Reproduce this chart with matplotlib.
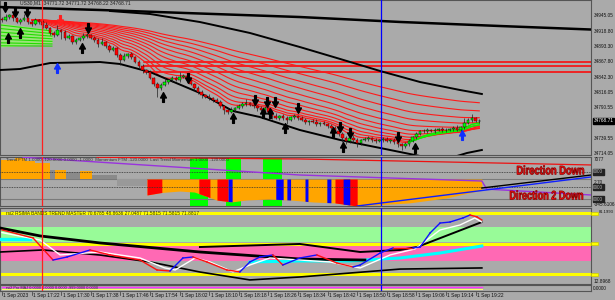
import numpy as np
import matplotlib
matplotlib.use("Agg")
import matplotlib.pyplot as plt
from matplotlib.path import Path
from matplotlib.patches import PathPatch
from matplotlib.textpath import TextPath
from matplotlib.font_manager import FontProperties
from matplotlib.transforms import Affine2D, IdentityTransform

# ---- data (US30 M1, 1 Sep 2023) ----
closes = [34938.3, 34943.3, 34946.7, 34941.7, 34934.9, 34938.3, 34941.7, 34934.9, 34931.6, 34938.3,
          34934.9, 34929.9, 34924.9, 34916.5, 34913.1, 34921.5, 34918.1, 34908.1, 34911.4, 34901.3,
          34904.7, 34908.1, 34911.4, 34913.1, 34908.1, 34904.7, 34898.0, 34901.3, 34894.6, 34887.9,
          34891.3, 34879.5, 34871.1, 34877.8, 34881.2, 34876.1, 34867.7, 34861.0, 34854.3, 34850.9,
          34840.9, 34830.8, 34824.1, 34829.1, 34834.1, 34837.5, 34840.9, 34837.5, 34842.5, 34844.2,
          34837.5, 34830.8, 34824.1, 34817.3, 34812.3, 34808.9, 34807.3, 34803.9, 34800.5, 34793.8,
          34787.1, 34783.7, 34787.1, 34790.5, 34793.8, 34797.2, 34798.9, 34795.5, 34793.8, 34790.5,
          34787.1, 34790.5, 34783.7, 34777.0, 34773.7, 34777.0, 34773.7, 34770.3, 34775.3, 34777.0,
          34773.7, 34770.3, 34766.9, 34768.7, 34766.9, 34763.6, 34765.3, 34763.6, 34760.2, 34756.9,
          34751.8, 34746.8, 34740.1, 34735.0, 34740.1, 34736.7, 34731.7, 34736.7, 34738.4, 34740.1,
          34736.7, 34735.0, 34736.7, 34738.4, 34735.0, 34736.7, 34733.3, 34730.0, 34726.6, 34730.0,
          34735.0, 34741.7, 34746.8, 34751.8, 34751.8, 34753.5, 34751.8, 34753.5, 34755.2, 34753.5,
          34753.5, 34755.2, 34756.9, 34753.5, 34758.5, 34765.3, 34770.3, 34773.7, 34768.7, 34768.71]
first_open = 34940.0
up_wick = [3, 5, 2, 4, 2, 3, 6, 2, 3, 4, 2, 3, 5, 2, 3, 8, 2, 3, 4, 2, 3, 2, 5, 3, 2, 4, 3, 6, 2, 3,
           4, 2, 3, 5, 2, 3, 2, 4, 3, 2, 3, 2, 4, 3, 6, 2, 3, 4, 8, 3, 2, 3, 2, 4, 3, 2, 5, 2, 3, 4,
           2, 3, 5, 2, 4, 3, 6, 2, 3, 2, 4, 3, 2, 3, 5, 2, 3, 4, 2, 3, 2, 4, 3, 2, 3, 5, 2, 3, 2, 4,
           3, 2, 4, 3, 2, 5, 3, 2, 3, 4, 2, 3, 2, 4, 3, 2, 3, 5, 2, 3, 4, 2, 3, 2, 3, 4, 2, 3, 2, 3,
           4, 2, 3, 5, 2, 8, 3, 6, 2, 3]
dn_wick = [4, 2, 3, 5, 2, 3, 2, 4, 3, 2, 3, 5, 2, 3, 4, 2, 12, 3, 2, 4, 3, 2, 3, 4, 2, 3, 5, 2, 3, 4,
           2, 3, 8, 2, 3, 4, 2, 3, 5, 3, 2, 4, 15, 3, 2, 3, 4, 2, 3, 2, 3, 2, 4, 3, 5, 2, 3, 4, 2, 3,
           6, 4, 2, 3, 2, 4, 3, 2, 3, 5, 2, 4, 3, 5, 2, 3, 4, 6, 2, 3, 4, 2, 3, 5, 2, 3, 4, 2, 3, 6,
           4, 3, 6, 5, 3, 4, 6, 3, 2, 3, 4, 3, 2, 3, 2, 4, 3, 5, 6, 3, 4, 2, 3, 2, 4, 3, 2, 3, 2, 3,
           4, 2, 3, 2, 3, 4, 2, 3, 2, 3]

time_labels = ["1 Sep 2023", "1 Sep 17:22", "1 Sep 17:30", "1 Sep 17:38", "1 Sep 17:46", "1 Sep 17:54",
               "1 Sep 18:02", "1 Sep 18:10", "1 Sep 18:18", "1 Sep 18:26", "1 Sep 18:34", "1 Sep 18:42",
               "1 Sep 18:50", "1 Sep 18:58", "1 Sep 19:06", "1 Sep 19:14", "1 Sep 19:22"]
time_label_idx = [0, 8, 16, 24, 32, 40, 48, 56, 64, 72, 80, 88, 96, 104, 112, 120, 128]

price_ticks = [34945.05, 34918.80, 34893.30, 34867.80, 34842.30, 34816.05, 34790.55, 34739.55, 34714.05]
last_price = 34768.71

ema_periods = [8, 12, 17, 23, 30, 38, 48, 60, 75, 95, 120]
hlines = [34867.5, 34861.0, 34851.0]

# channel-like black lines (bar index, price)
top_line = [(-0.5, 34960.1), (26.5, 34955.1), (53.5, 34949.2), (80.5, 34943.3), (107.6, 34935.0),
            (134.6, 34928.2), (159.2, 34922.3)]
mid_line = [(29.2, 34953.4), (40, 34948.4), (53.5, 34934.9), (67, 34916.5), (80.5, 34892.9),
            (91.4, 34872.8), (102.2, 34852.6), (113, 34834.1), (123.8, 34820.7), (129.7, 34814.0)]
low_line = [(-0.5, 34854.3), (4.9, 34856.0), (13, 34866.0), (26.5, 34867.7), (31.9, 34864.4),
            (40, 34850.9), (53.5, 34815.7), (62.4, 34785.4), (69.7, 34775.3), (80.5, 34753.5),
            (91.4, 34736.7), (102.2, 34723.3), (107.6, 34716.5), (116, 34706.0), (122, 34708.0),
            (125.7, 34714.9), (129.7, 34719.9)]
green_band = [(-0.5, 34933, 34893), (13.5, 34922, 34899)]
green_band_lines = [34930, 34924, 34918, 34912, 34906, 34900, 34895]

arrows_down_black = [(0.8, 34960.1), (3.5, 34951.7), (6.8, 34951.7), (23.2, 34924.9), (50.3, 34840.9),
                     (68.4, 34803.9), (71.6, 34800.5), (73.8, 34800.5), (80, 34790.5), (91.4, 34758.5),
                     (94.1, 34748.5), (107, 34741.7)]
arrows_up_black = [(1.6, 34908.1), (4.9, 34916.5), (21.6, 34891.3), (43.5, 34808.9), (62.4, 34773.7),
                   (70.5, 34782.1), (72.4, 34782.1), (76.5, 34756.9), (89.5, 34750.1), (92.2, 34724.9),
                   (111.6, 34723.3)]
arrows_down_red = [(15.7, 34938.3)]
arrows_up_blue = [(14.9, 34857.7), (124.3, 34745.1)]

red_vline = 10.7
blue_vline = 102.4

# trend/momentum sub window
green_blocks = [(50.8, 55.7), (60.5, 64.6), (70.5, 75.7)]
orange_top_blocks = [(-0.5, 3.5, 25), (3.5, 6.2, 42), (6.2, 8.9, 17), (8.9, 13.0, 1),
                     (14.3, 17.3, -56), (21.1, 24.3, -64)]
gray_top_blocks = [(13.0, 14.3, -56), (17.3, 21.1, -72), (24.3, 31.0, -100)]
gray_low_block = (31.0, 39.2, -190)
hist_edge = [(39.2, -260), (43, -240), (48, -228), (52, -236), (55, -268), (58, -301), (62, -317),
             (66, -301), (72, -293), (78, -301), (84, -317), (90, -325), (96, -350), (110, -325),
             (120, -285), (129.7, -220)]
red_blocks = [(39.2, 43.2), (53.2, 56.2), (58.1, 61.1), (90, 96)]
blue_blocks = [(61.1, 62.2), (74, 76), (77, 78), (81.9, 82.7), (87.8, 88.9), (92.2, 94)]
ind_red_line = [(25.7, 48), (80.5, 34), (159.2, -15)]
ind_purple_line = [(5.7, 48), (80.5, -97), (129.7, -146), (131, -212), (159.2, -260)]
ind_blue_line = [(96, -350), (159.2, -113)]
ind_black_line = [(129.7, -203), (159.2, -97)]

# rsi window
rsi_fast = [(0, 63.6), (8.4, 55.7), (13.8, 34.0), (17.6, 37.0), (23.8, 43.9), (29.2, 39.0), (37.3, 34.0),
            (41.9, 24.2), (45.4, 23.2), (48.9, 36.0), (51.6, 37.0), (55.4, 32.1), (60.8, 24.2),
            (64.3, 22.3), (67.0, 32.1), (69.7, 37.0), (73.2, 39.0), (75.9, 29.1), (80.5, 36.0),
            (85.1, 39.0), (90.5, 31.1), (94.9, 27.2), (96.8, 29.1), (102.2, 40.9), (105.7, 45.9),
            (111.1, 45.9), (113.0, 46.8), (115.7, 60.6), (118.4, 70.4), (121.1, 71.4), (124.6, 75.4),
            (126.5, 78.3), (128.4, 76.4), (129.7, 73.4)]
rsi_white = [(0, 61.0), (10.3, 53.7), (15.7, 39.0), (26.5, 41.9), (37.3, 36.0), (44, 26.2), (46.8, 24.2),
             (52.2, 36.0), (56.2, 32.1), (62.4, 22.3), (67, 29.1), (72.4, 36.0), (80.5, 34.0),
             (88.6, 32.1), (96.8, 26.2), (104.9, 39.0), (111.6, 44.9), (118.4, 63.6), (123.8, 68.5),
             (127.8, 75.4), (129.7, 71.4)]
rsi_slow_a = [(-0.5, 65.5), (10.3, 57.7), (26.5, 50.8), (53.5, 41.9), (80.5, 35.0), (98.1, 34.0)]
rsi_slow_b = [(53.5, 46.8), (80.5, 49.8), (96.8, 41.9), (107.6, 43.9), (112.2, 46.8), (129.7, 71.4)]
rsi_slow_c = [(-0.5, 41.9), (11.1, 43.9), (26.5, 38.9), (40, 32.1), (53.5, 22.2), (67, 14.4),
              (80.5, 17.3), (107.6, 25.1), (129.7, 26.2)]
rsi_cyan_left = [(-0.5, 54.6), (7.6, 54.6)]
rsi_cyan = [(67, 32.1), (80.5, 33.1), (94.1, 33.1), (107.6, 36.0), (118.4, 40.9), (129.7, 47.8)]
rsi_levels = [80, 50, 20]
rsi_green_zone = (52.1, 66.8)
rsi_pink_zone = (33.3, 48.3)

# ---- drawing ----
BG = "#aaaaaa"
W, H = 615, 300
fig = plt.figure(figsize=(6.15, 3.0), dpi=100, facecolor=BG)
LAB = "Liberation Sans"


def rect(x0, y0, x1, y1):
    return [x0 / W, 1 - y1 / H, (x1 - x0) / W, (y1 - y0) / H]


ax = fig.add_axes(rect(0, 0, 591, 155))
ax2 = fig.add_axes(rect(0, 157, 591, 206))
ax3 = fig.add_axes(rect(0, 208, 591, 284))
ax4 = fig.add_axes(rect(0, 285, 591, 291))
XL = (-0.54, 159.2)
for a in (ax, ax2, ax3, ax4):
    a.set_facecolor(BG)
    a.set_xlim(*XL)
    a.set_xticks([])
    a.set_yticks([])
    for s in a.spines.values():
        s.set_color("#555555")
        s.set_linewidth(0.8)
    a.axvline(red_vline, color="#ff2020", lw=0.9, zorder=6)
    a.axvline(blue_vline, color="#0000ff", lw=0.9, zorder=6)


def xy(pts):
    return [p[0] for p in pts], [p[1] for p in pts]


def right_label(a, val, text, color="#111111", x=1.004, size=3.4, **kw):
    a.text(x, val, text, transform=a.get_yaxis_transform(), fontsize=size, color=color,
           va="center", clip_on=False, family=LAB, **kw)


# main price window
ax.set_ylim(34711.5, 34971.9)
idx = np.arange(len(closes))
c = np.array(closes)
o = np.array([first_open] + closes[:-1])
hi = np.maximum(o, c) + np.array(up_wick)
lo = np.minimum(o, c) - np.array(dn_wick)

gx = [g[0] for g in green_band]
ax.fill_between(gx, [g[2] for g in green_band], [g[1] for g in green_band], color="#9be37a", lw=0, zorder=1)
for p in green_band_lines:
    ax.plot([gx[0], gx[1]], [p, p - (34933 - 34922) * (p - 34893) / 40], color="#22dd00", lw=0.8, zorder=1.5)

for p in hlines:
    ax.plot([38.5, XL[1]], [p, p], color="#ff0000", lw=1.1, zorder=2)


def ema(vals, n):
    k = 2 / (n + 1)
    out = [vals[0]]
    for v in vals[1:]:
        out.append(out[-1] + k * (v - out[-1]))
    return np.array(out)


for j, n in enumerate(ema_periods):
    e = ema(closes, n)
    ax.plot(idx[8:], e[8:], color="#ff1a1a", lw=0.8, zorder=2)
    if j < 2:
        ax.plot(idx[110:], e[110:], color="#00ff00", lw=1.0, zorder=3)

for pts, lw in ((top_line, 1.8), (mid_line, 1.4), (low_line, 1.4)):
    ax.plot(*xy(pts), color="black", lw=lw, zorder=3)

ax.vlines(idx, lo, hi, color="#202020", lw=0.5, zorder=4)
up = c >= o
ax.bar(idx[up], (c - o)[up], bottom=o[up], width=0.7, color="#00ff00", edgecolor="black", lw=0.3, zorder=5)
ax.bar(idx[~up], (c - o)[~up], bottom=o[~up], width=0.7, color="#ff0000", edgecolor="#400000", lw=0.3, zorder=5)

down_path = Path([(-0.18, 1), (0.18, 1), (0.18, 0.1), (0.6, 0.1), (0, -1), (-0.6, 0.1), (-0.18, 0.1), (-0.18, 1)],
                 [Path.MOVETO] + [Path.LINETO] * 6 + [Path.CLOSEPOLY])
up_path = Path([(x, -y) for x, y in down_path.vertices], down_path.codes)
for pts, mk, col in ((arrows_down_black, down_path, "black"), (arrows_up_black, up_path, "black"),
                     (arrows_down_red, down_path, "#ff2020"), (arrows_up_blue, up_path, "#1030ff")):
    ax.plot(*xy(pts), ls="none", marker=mk, ms=7, color=col, mec=col, zorder=7)

ax.text(5, 34967.5, "US30,M1  34771.72 34771.72 34768.22 34768.71", fontsize=3.6, color="#222222",
        va="center", zorder=8, family=LAB)
for p in price_ticks:
    right_label(ax, p, f"{p:.2f}")
right_label(ax, last_price, f"{last_price:.2f}", color="white",
            bbox=dict(boxstyle="square,pad=0.15", fc="black", ec="black"))

# trend / momentum window
ax2.set_ylim(-350, 50)
for s, e in green_blocks:
    ax2.axvspan(s, e, color="#00ff00", lw=0, zorder=1)
for s, e, t in orange_top_blocks:
    ax2.bar(s, t + 130, bottom=-130, width=e - s, align="edge", color="#ffa500", lw=0, zorder=2)
for s, e, t in gray_top_blocks:
    ax2.bar(s, t + 130, bottom=-130, width=e - s, align="edge", color="#8a8a8a", lw=0, zorder=2)
gs, ge, gb = gray_low_block
ax2.bar(gs, gb + 130, bottom=-130, width=ge - gs, align="edge", color="#999999", lw=0, zorder=2)
ex, ev = xy(hist_edge)
ax2.fill_between(ex, -130, ev, color="#ffa500", lw=0, zorder=2)
for blocks, col in ((red_blocks, "#ff0000"), (blue_blocks, "#0000ff")):
    for s, e in blocks:
        xs = np.array([s, e])
        ax2.fill_between(xs, -130, np.interp(xs, ex, ev), color=col, lw=0, zorder=3)
for lv in (-72, -195):
    ax2.axhline(lv, color="#333333", lw=0.6, ls=(0, (1, 1)), zorder=4)
for lv in (-130, -293):
    ax2.axhline(lv, color="#7a7a7a", lw=0.8, zorder=1.5)
ax2.plot(*xy(ind_red_line), color="#ee1111", lw=0.9, zorder=5)
ax2.plot(*xy(ind_purple_line), color="#9933dd", lw=1.0, zorder=5)
ax2.plot(*xy(ind_blue_line), color="#1020ff", lw=1.0, zorder=5)
ax2.plot(*xy(ind_black_line), color="black", lw=1.0, zorder=5)
ax2.text(1, 22, "Trend FTM 1.0000 -120.0000 0.0000 -1.0000  Momentum FTM -120.0000  Last Trend Momentum 1.0000 -120.0000",
         fontsize=3.2, color="#333333", va="center", zorder=6, family=LAB)
right_label(ax2, 30, "7077")
right_label(ax2, -160, "2.70")
right_label(ax2, -340, "-345.6106")
for lv in (-72, -195, -293):
    right_label(ax2, lv, "0000", color="#bbbbbb",
                bbox=dict(boxstyle="square,pad=0.1", fc="#222222", ec="#222222"))

# condensed bold red labels drawn as paths so they keep the narrow look
fp = FontProperties(family=LAB, weight="bold")
for label, x0, x1, ybot in (("Direction Down", 517, 584, 174.5), ("Direction 2 Down", 510, 583, 199.5)):
    tp = TextPath((0, 0), label, size=10, prop=fp)
    bb = tp.get_extents()
    tr = Affine2D().translate(-bb.x0, -bb.y0).scale((x1 - x0) / bb.width, 9.0 / bb.height) \
        .translate(x0, H - ybot)
    fig.add_artist(PathPatch(tr.transform_path(tp), transform=IdentityTransform(), fc="#ff1010",
                             ec="#8a0000", lw=0.5, zorder=10))

# rsi window
ax3.set_ylim(10.4, 85.2)
ax3.axhspan(*rsi_green_zone, color="#98fb98", lw=0, zorder=1)
ax3.axhspan(*rsi_pink_zone, color="#ff69b4", lw=0, zorder=1)
for lv in rsi_levels:
    ax3.axhline(lv, color="#ffff00", lw=2.2, zorder=2)
ax3.plot(*xy(rsi_cyan_left), color="#00ffff", lw=2.4, zorder=3)
ax3.plot(*xy(rsi_cyan), color="#00ffff", lw=2.2, zorder=3)
ax3.plot(*xy(rsi_slow_a), color="black", lw=2.0, zorder=4)
ax3.plot(*xy(rsi_slow_b), color="black", lw=1.4, zorder=4)
ax3.plot(*xy(rsi_slow_c), color="black", lw=1.2, zorder=4)
ax3.plot(*xy(rsi_white), color="white", lw=1.0, zorder=5)
for (x0, v0), (x1, v1) in zip(rsi_fast[:-1], rsi_fast[1:]):
    ax3.plot([x0, x1], [v0, v1], color="#1010ff" if v1 > v0 else "#ff1010", lw=1.0, zorder=6)
ax3.text(1, 80, "rsi2 RSIMA BANDS TREND MASTER 70.6785 48.8636 27.0487 71.5815 71.5815 71.8817",
         fontsize=3.4, color="#333300", va="center", zorder=7, family=LAB)
for lv in rsi_levels:
    ax3.add_patch(plt.Rectangle((1.0, lv - 1.6), 0.012, 3.2, transform=ax3.get_yaxis_transform(),
                                fc="#ffff00", ec="#cccc00", lw=0.5, clip_on=False, zorder=8))
right_label(ax3, 81.1993, "81.1993", x=1.013, size=3.0)
right_label(ax3, 12.8968, "12.8968")

# bottom mini window
ax4.set_ylim(0, 1)
ax4.plot([0, 129.7], [0.7, 0.7], color="#ff33ff", lw=1.0)
ax4.plot([0, 129.7], [0.4, 0.4], color="#ffff66", lw=0.8)
ax4.text(1, 0.55, "rsi2 Pro MAJ 0.0000 0.0000 0.0000 -999.0000 0.0000", fontsize=2.8, color="#333333",
         va="center", family=LAB)
right_label(ax4, 0.5, "0.0000")

# time axis
xtr = ax4.get_xaxis_transform()
for i, lab in zip(time_label_idx, time_labels):
    ax4.plot([i, i], [-0.2, -0.7], transform=xtr, color="#333333", lw=0.5, clip_on=False)
    ax4.text(i + 0.4, -0.4, lab, transform=xtr, fontsize=3.5, color="#111111", va="top",
             clip_on=False, family=LAB)

fig.savefig("out.png", dpi=100, facecolor=BG)
